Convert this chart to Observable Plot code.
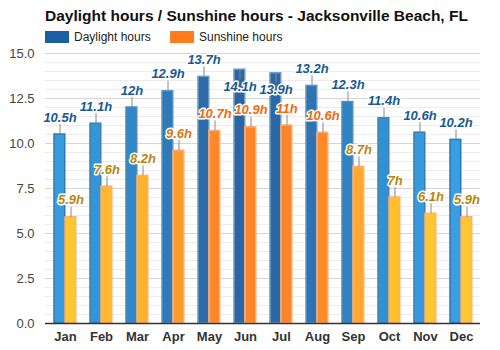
<!DOCTYPE html>
<html>
<head>
<meta charset="utf-8">
<script src="https://cdn.jsdelivr.net/npm/d3@7"></script>
<script src="https://cdn.jsdelivr.net/npm/@observablehq/plot@0.6"></script>
<style>
  body { margin: 0; background: #fff; font-family: "Liberation Sans", Arial, sans-serif; }
  #wrap { width: 500px; height: 350px; position: relative; }
  #header { height: 40px; position: relative; }
  #title { position: absolute; left: 45px; top: 7px; font-size: 15.5px; font-weight: bold; color: #111; white-space: nowrap; }
  .leg { position: absolute; top: 30px; font-size: 12px; color: #222; display: flex; align-items: center; white-space: nowrap; }
  .sw { width: 24px; height: 12px; display: inline-block; margin-right: 5px; }
  svg { overflow: visible; }
  svg text { paint-order: stroke; }
</style>
</head>
<body>
<div id="wrap">
  <div id="header">
    <div id="title">Daylight hours / Sunshine hours - Jacksonville Beach, FL</div>
    <div class="leg" style="left:45px"><span class="sw" style="background:#1c5ea2"></span>Daylight hours</div>
    <div class="leg" style="left:170px"><span class="sw" style="background:#ff7b1c"></span>Sunshine hours</div>
  </div>
  <div id="chart"></div>
</div>
<script>
const months = ["Jan","Feb","Mar","Apr","May","Jun","Jul","Aug","Sep","Oct","Nov","Dec"];
const daylight = [10.5, 11.1, 12, 12.9, 13.7, 14.1, 13.9, 13.2, 12.3, 11.4, 10.6, 10.2];
const sunshine = [5.9, 7.6, 8.2, 9.6, 10.7, 10.9, 11, 10.6, 8.7, 7, 6.1, 5.9];
const yTicks = [0, 2.5, 5, 7.5, 10, 12.5, 15];
const yMinor = d3.range(0, 15.001, 0.5);

const dayData = months.map((m, i) => ({month: m, value: daylight[i]}));
const sunData = months.map((m, i) => ({month: m, value: sunshine[i]}));

const dayFill = d3.scaleLinear().domain([10.2, 12, 14.1]).range(["#3a9fe0", "#3088c8", "#2c65a2"]);
const dayStroke = d3.scaleLinear().domain([10.2, 14.1]).range(["#2a78b8", "#6d9dc8"]);
const sunFill = d3.scaleLinear().domain([6, 7, 8.5, 10.6]).range(["#ffc733", "#ffc030", "#ffad30", "#ff8a2a"]);
const sunLabel = d3.scaleLinear().domain([8.7, 10.6]).range(["#b8860b", "#f26a0c"]).clamp(true);

const U = 10 / 18; // leader length in value units
const below = v => v >= 13.8;

const chart = Plot.plot({
  width: 500,
  height: 310,
  marginTop: 13,
  marginBottom: 27,
  marginLeft: 45,
  marginRight: 20,
  style: {fontFamily: '"Liberation Sans", Arial, sans-serif', fontSize: "13px", color: "#333", overflow: "visible"},
  x: {domain: months, padding: 0, label: null},
  y: {domain: [0, 15], label: null},
  axis: null,
  marks: [
    Plot.ruleY(yMinor, {stroke: "#ececf0", strokeWidth: 1}),
    Plot.ruleY(yTicks, {stroke: "#d6d6d6", strokeWidth: 1}),
    Plot.axisY({ticks: yTicks, tickFormat: d => d.toFixed(1), tickSize: 0, tickPadding: 11, label: null, fill: "#444", fontSize: 13}),
    Plot.axisX({tickSize: 0, tickPadding: 8, label: null, fontWeight: "bold", fill: "#333", fontSize: 13}),
    Plot.barY(dayData, {x: "month", y: "value", insetLeft: 7, insetRight: 18.25,
      fill: d => dayFill(d.value), stroke: d => dayStroke(d.value), strokeWidth: 1.5}),
    Plot.barY(sunData, {x: "month", y: "value", insetLeft: 18, insetRight: 7.25,
      fill: d => sunFill(d.value), stroke: "#ffae78", strokeWidth: 1.5}),
    Plot.ruleY([0], {stroke: "#333", strokeWidth: 1.5}),
    Plot.ruleX(dayData, {x: "month", dx: -5.5, y1: "value", y2: d => below(d.value) ? d.value - U : d.value + U, stroke: "#888", strokeWidth: 1}),
    Plot.ruleX(sunData, {x: "month", dx: 5.5, y1: "value", y2: d => d.value + U, stroke: "#888", strokeWidth: 1}),
    Plot.text(dayData, {x: "month", y: "value", dx: -5.5, text: d => d.value + "h",
      fontStyle: "italic", fontWeight: "bold", fontSize: 13, fill: "#165996", stroke: "white", strokeWidth: 3,
      filter: d => !below(d.value), dy: -17}),
    Plot.text(dayData, {x: "month", y: "value", dx: -5.5, text: d => d.value + "h",
      fontStyle: "italic", fontWeight: "bold", fontSize: 13, fill: "#165996", stroke: "white", strokeWidth: 3,
      filter: d => below(d.value), dy: 17}),
    Plot.text(sunData, {x: "month", y: "value", dx: 5.5, text: d => d.value + "h",
      fontStyle: "italic", fontWeight: "bold", fontSize: 13, fill: d => sunLabel(d.value), stroke: "white", strokeWidth: 3, dy: -17})
  ]
});
document.getElementById("chart").appendChild(chart);
</script>
</body>
</html>
